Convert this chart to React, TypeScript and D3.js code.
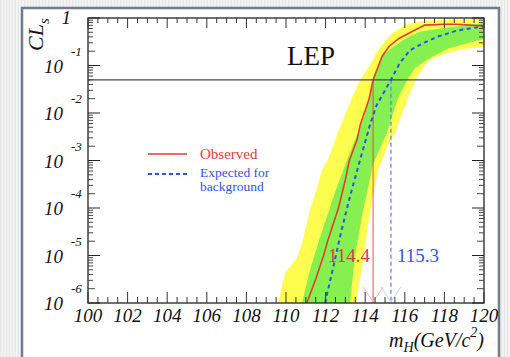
import React from 'react';
import * as d3 from 'd3';

// ---- data ----
const massTicks = [100, 102, 104, 106, 108, 110, 112, 114, 116, 118, 120];
const decadeExps = [-1, -2, -3, -4, -5, -6];

const obsMass = [111.05, 111.5, 111.9, 112.1, 112.65, 113.0, 113.2, 113.6, 113.75, 114.2, 114.4, 114.85, 115.2, 115.7, 116.35, 117.0, 118.0, 118.6, 119.3, 120.0];
const obsLogCLs = [-6.0, -5.5, -5.0, -4.7, -4.0, -3.4, -3.0, -2.55, -2.25, -1.7, -1.3, -0.81, -0.6, -0.43, -0.29, -0.15, -0.13, -0.13, -0.15, -0.17];

const expMass = [111.97, 112.39, 112.81, 113.23, 113.74, 114.24, 114.58, 114.91, 115.3, 115.76, 116.26, 116.92, 117.68, 118.59, 119.39, 120.0];
const expLogCLs = [-6.0, -5.24, -4.46, -3.76, -2.99, -2.25, -1.83, -1.59, -1.3, -0.94, -0.68, -0.53, -0.39, -0.27, -0.21, -0.18];

// band edges: [mass, log10 CLs]
const yellowHi: [number, number][] = [
  [109.6, -6.0], [109.95, -5.37], [110.56, -5.05], [110.81, -4.74], [111.21, -4.04], [111.55, -3.62],
  [111.82, -3.2], [112.12, -2.99], [112.58, -2.46], [112.98, -2.04], [113.33, -1.68], [113.74, -1.31],
  [114.24, -0.99], [114.65, -0.67], [115.25, -0.36], [116.01, -0.15], [116.92, -0.06], [118.28, -0.03], [120.0, -0.02],
];
const greenHi: [number, number][] = [
  [110.81, -6.0], [111.21, -5.31], [111.62, -4.74], [112.47, -3.68], [113.08, -2.99], [113.99, -2.04],
  [114.39, -1.31], [114.9, -0.78], [115.4, -0.61], [115.76, -0.51], [116.26, -0.38], [116.77, -0.29],
  [117.93, -0.21], [119.14, -0.15], [120.0, -0.11],
];
const greenLo: [number, number][] = [
  [113.23, -6.0], [113.48, -5.03], [113.84, -4.15], [114.09, -3.68], [114.39, -3.09], [114.75, -2.74],
  [115.1, -2.42], [115.61, -1.73], [116.11, -1.31], [116.52, -1.05], [117.27, -0.84], [118.13, -0.65],
  [119.14, -0.53], [120.0, -0.44],
];
const yellowLo: [number, number][] = [
  [113.54, -6.0], [113.89, -5.09], [114.34, -3.83], [114.65, -3.2], [114.85, -2.99], [115.15, -2.67],
  [115.51, -2.42], [116.11, -1.73], [116.52, -1.31], [117.02, -0.99], [117.27, -0.88], [118.13, -0.74],
  [118.94, -0.65], [120.0, -0.61],
];

const clsLimit = 0.05;
const obsLimit = 114.4;
const expLimit = 115.3;

const SERIF = "'Liberation Serif', 'DejaVu Serif', 'Times New Roman', serif";

export default function App() {
  const L = 88, R = 484, T = 18, B = 303;
  const x = d3.scaleLinear().domain([100, 120]).range([L, R]);
  const y = d3.scaleLog().domain([1e-6, 1]).range([B, T]);

  const line = d3.line<[number, number]>().x(d => x(d[0])).y(d => y(Math.pow(10, d[1])));
  const poly = (hi: [number, number][], lo: [number, number][]) =>
    (line([...hi, ...lo.slice().reverse()]) || '') + 'Z';

  const obsPts: [number, number][] = obsMass.map((m, i) => [m, obsLogCLs[i]]);
  const expPts: [number, number][] = expMass.map((m, i) => [m, expLogCLs[i]]);

  // ticks
  const xMinor = d3.range(100, 120.001, 0.5);
  const yMinor: { v: number; k: number }[] = [];
  for (let e = -6; e < 0; e++) for (let k = 2; k <= 9; k++) yMinor.push({ v: k * Math.pow(10, e), k });
  const yMajor = d3.range(-6, 1).map(e => Math.pow(10, e));

  const stripes = d3.range(0, 510, 3);

  const xr = x(obsLimit), xb = x(expLimit), y05 = y(clsLimit);

  return (
    <svg width={510} height={357} style={{ position: 'absolute', left: 0, top: 0 }} fontFamily={SERIF}>
      <defs>
        <clipPath id="plot"><rect x={L} y={T} width={R - L} height={B - T} /></clipPath>
      </defs>
      {/* page background */}
      <rect x={0} y={0} width={510} height={357} fill="#f3f3f3" />
      {stripes.map(s => (
        <line key={s} x1={s + 0.5} x2={s + 0.5} y1={0} y2={357} stroke="#e7e7e7" strokeWidth={1} />
      ))}
      <rect x={22} y={8} width={477} height={360} fill="#ffffff" stroke="#6f7d8c" strokeWidth={2.5} />

      {/* bands */}
      <g clipPath="url(#plot)">
        <path d={poly(yellowHi, yellowLo)} fill="#fdfd4f" stroke="none" />
        <path d={poly(greenHi, greenLo)} fill="#86f050" stroke="none" />
        {/* limit verticals */}
        <line x1={xr} x2={xr} y1={y05} y2={B} stroke="#e83a3a" strokeOpacity={0.55} strokeWidth={1.6} />
        <line x1={xb} x2={xb} y1={y05} y2={B} stroke="#4f7dff" strokeOpacity={0.85} strokeWidth={1.4} strokeDasharray="4,3" />
        <path d={`M${xr - 10},${B - 16}L${xr},${B - 1}L${xr + 10},${B - 16}`} fill="none" stroke="#f3b0b0" strokeWidth={0.9} />
        <path d={`M${xb - 10},${B - 16}L${xb},${B - 1}L${xb + 10},${B - 16}`} fill="none" stroke="#c0cdf6" strokeWidth={0.9} />
        {/* curves */}
        <path d={line(expPts) || ''} fill="none" stroke="#2a55ea" strokeWidth={2} strokeDasharray="4,3.5" />
        <path d={line(obsPts) || ''} fill="none" stroke="#e0402c" strokeWidth={1.6} />
      </g>

      {/* 95% CL line */}
      <line x1={L} x2={R} y1={y05} y2={y05} stroke="#4a4a4a" strokeWidth={1.3} />

      {/* frame */}
      <rect x={L} y={T} width={R - L} height={B - T} fill="none" stroke="#222" strokeWidth={1.3} />

      {/* x ticks */}
      {xMinor.map(m => {
        const major = Math.abs(m / 2 - Math.round(m / 2)) < 1e-6;
        const len = major ? 11 : 6;
        return (
          <g key={m} stroke="#333" strokeWidth={1}>
            <line x1={x(m)} x2={x(m)} y1={B} y2={B - len} />
            <line x1={x(m)} x2={x(m)} y1={T} y2={T + len - 1} />
          </g>
        );
      })}
      {/* y ticks */}
      {yMinor.map((t, i) => {
        const len = t.k === 2 ? 7 : 5;
        return (
          <g key={i} stroke="#444" strokeWidth={1}>
            <line x1={L} x2={L + len} y1={y(t.v)} y2={y(t.v)} />
            <line x1={R} x2={R - len} y1={y(t.v)} y2={y(t.v)} />
          </g>
        );
      })}
      {yMajor.map((v, i) => (
        <g key={i} stroke="#222" strokeWidth={1}>
          <line x1={L} x2={L + 12} y1={y(v)} y2={y(v)} />
          <line x1={R} x2={R - 12} y1={y(v)} y2={y(v)} />
        </g>
      ))}

      {/* x tick labels */}
      {massTicks.map(m => (
        <text key={m} x={x(m)} y={322} textAnchor="middle" fontStyle="italic" fontSize={19} fill="#111">{m}</text>
      ))}
      {/* y tick labels */}
      <text x={71} y={24} textAnchor="end" fontStyle="italic" fontSize={19} fill="#111">1</text>
      {decadeExps.map(e => (
        <g key={e} fontStyle="italic" fill="#111">
          <text x={63} y={y(Math.pow(10, e)) + 7} textAnchor="end" fontSize={19}>10</text>
          <text x={71} y={y(Math.pow(10, e)) - 10} fontSize={13}>{`${e}`}</text>
        </g>
      ))}

      {/* axis titles */}
      <text transform="translate(43,51) rotate(-90)" fontStyle="italic" fontSize={22} fill="#111">
        CL<tspan fontSize={15} dy={6}>s</tspan>
      </text>
      <text x={484} y={347} textAnchor="end" fontStyle="italic" fontSize={20} fill="#111">
        m<tspan fontSize={14} dy={5}>H</tspan><tspan dy={-5}>(GeV/c</tspan><tspan fontSize={14} dy={-10}>2</tspan><tspan dy={10}>)</tspan>
      </text>

      {/* LEP */}
      <text x={287} y={65} fontSize={27} fill="#111">LEP</text>

      {/* legend */}
      <line x1={148} x2={187} y1={154} y2={154} stroke="#e0402c" strokeWidth={1.6} />
      <text x={200} y={159} fontSize={15} fill="#e83a3a">Observed</text>
      <line x1={148} x2={187} y1={174} y2={174} stroke="#2a55ea" strokeWidth={1.8} strokeDasharray="4,3" />
      <text x={200} y={177} fontSize={13.5} fill="#2f55f0">Expected for</text>
      <text x={200} y={191} fontSize={13.5} fill="#2f55f0">background</text>

      {/* limit labels */}
      <text x={370} y={262} textAnchor="end" fontSize={19} fill="#e03a3a">{obsLimit.toFixed(1)}</text>
      <text x={397} y={262} fontSize={19} fill="#2f55f0">{expLimit.toFixed(1)}</text>
    </svg>
  );
}
